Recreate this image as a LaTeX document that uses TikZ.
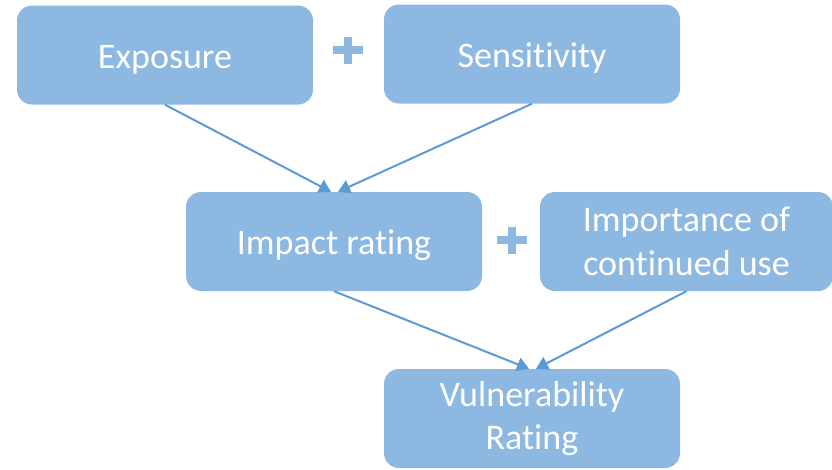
\documentclass[tikz,border=0pt]{standalone}
\usepackage{fontspec}
\setmainfont[Ligatures=NoCommon]{Carlito}
\usetikzlibrary{arrows.meta,positioning}
\definecolor{boxblue}{HTML}{8DB8E1}
\definecolor{lineblue}{HTML}{5B9BD5}
\tikzset{
  box/.style={fill=boxblue,rounded corners=15pt,minimum width=296pt,minimum height=99pt,
              inner sep=0pt,align=center,text=white,font=\fontsize{36}{43.5}\selectfont,
              execute at begin node=\rule{0pt}{32pt}},
  ar/.style ={-{Triangle[length=12pt,width=14pt]},draw=lineblue,line width=2pt},
  plus/.style={minimum width=30pt,minimum height=27pt,inner sep=0pt,
               path picture={\draw[boxblue,line width=8pt]
                 (path picture bounding box.west)--(path picture bounding box.east)
                 (path picture bounding box.north)--(path picture bounding box.south);}},
}

\begin{document}
\begin{tikzpicture}[x=1pt,y=-1pt]
  \useasboundingbox (0,0) rectangle (832,469);
  % top row
  \node[box] (exp)  at (165,55) {Exposure};
  \node[box] (sens) at (532,54) {Sensitivity};
  \node[plus] (p1)  at (348,50) {};
  % middle row
  \node[box] (imp)  at (334,241.5) {Impact rating};
  \node[box,minimum width=293pt] (use) at (686.5,241.5) {Importance of\\continued use};
  \node[plus] (p2)  at (512,240) {};
  % result
  \node[box] (vul)  at (532,418.5) {Vulnerability\\Rating};
  \draw[ar] (exp.south)  -- ([xshift=-3pt]imp.north);
  \draw[ar] (sens.south) -- ([xshift=4pt]imp.north);
  \draw[ar] (imp.south)  -- ([xshift=-3pt]vul.north);
  \draw[ar] (use.south)  -- ([xshift=4pt]vul.north);
\end{tikzpicture}
\end{document}
